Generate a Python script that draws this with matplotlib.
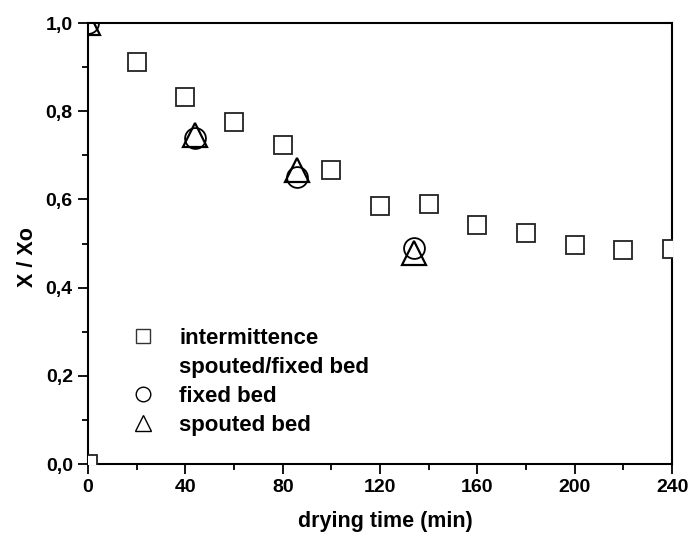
import matplotlib
matplotlib.use("Agg")
import matplotlib.pyplot as plt
from matplotlib.lines import Line2D
from matplotlib.ticker import FuncFormatter, MultipleLocator

# data
t_inter = [0, 20, 40, 60, 80, 100, 120, 140, 160, 180, 200, 220, 240]
x_inter = [0.0, 0.912, 0.832, 0.775, 0.723, 0.668, 0.586, 0.590, 0.542, 0.525, 0.497, 0.486, 0.487]
t_fixed = [0, 44, 86, 134]
x_fixed = [1.0, 0.740, 0.650, 0.490]
t_spout = [0, 44, 86, 134]
x_spout = [1.0, 0.747, 0.668, 0.478]
xticks = [0, 40, 80, 120, 160, 200, 240]
yticks = [0.0, 0.2, 0.4, 0.6, 0.8, 1.0]

plt.rcParams['font.family'] = ['Liberation Sans', 'DejaVu Sans']
plt.rcParams['font.weight'] = 'bold'

fig = plt.figure(figsize=(6.88, 5.36), dpi=100)
ax = fig.add_axes([0.128, 0.134, 0.849, 0.823])

ax.plot(t_inter, x_inter, ls='none', marker='s', ms=13, mfc='white', mec='#222222', mew=1.3, zorder=3)
ax.plot(t_fixed, x_fixed, ls='none', marker='o', ms=15, mfc='none', mec='black', mew=1.3, zorder=3)
ax.plot(t_spout, x_spout, ls='none', marker='^', ms=17, mfc='none', mec='black', mew=1.6, zorder=4)

ax.set_xlim(0, 240)
ax.set_ylim(0, 1.0)
ax.set_xticks(xticks)
ax.set_yticks(yticks)
ax.xaxis.set_minor_locator(MultipleLocator(20))
ax.yaxis.set_minor_locator(MultipleLocator(0.1))
ax.yaxis.set_major_formatter(FuncFormatter(lambda v, p: f"{v:.1f}".replace('.', ',')))
ax.tick_params(which='major', direction='out', length=7, width=1.3, labelsize=14, pad=4)
ax.tick_params(which='minor', direction='out', length=4, width=1.3)
ax.tick_params(top=False, right=False, which='both')
for lab in ax.get_xticklabels() + ax.get_yticklabels():
    lab.set_fontweight('bold')
for s in ax.spines.values():
    s.set_linewidth(1.5)

ax.set_xlabel('drying time (min)', fontsize=15.5, fontweight='bold')
ax.set_ylabel('X / Xo', fontsize=15.5, fontweight='bold')
ax.xaxis.set_label_coords(0.509, -0.107)
ax.yaxis.set_label_coords(-0.086, 0.469)

handles = [
    Line2D([], [], ls='none', marker='s', ms=9.5, mfc='white', mec='#333333', mew=1.0),
    Line2D([], [], ls='none', marker='none'),
    Line2D([], [], ls='none', marker='o', ms=10.5, mfc='none', mec='black', mew=1.0),
    Line2D([], [], ls='none', marker='^', ms=12, mfc='none', mec='black', mew=1.0),
]
labels = ['intermittence', 'spouted/fixed bed', 'fixed bed', 'spouted bed']
leg = ax.legend(handles, labels, loc='lower left', bbox_to_anchor=(0.0366, 0.019),
                frameon=False, prop={'size': 16, 'weight': 'bold'},
                handlelength=1.2, handletextpad=1.05, labelspacing=0.36)

fig.savefig('out.png', dpi=100)
